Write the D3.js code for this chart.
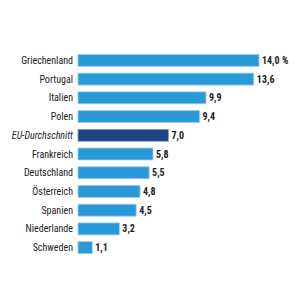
<!DOCTYPE html>
<html>
<head>
<meta charset="utf-8">
<script src="https://cdn.jsdelivr.net/npm/d3@7"></script>
<style>
  body { margin: 0; background: #fff; }
  text { font-family: "Roboto Condensed", "Liberation Sans Narrow", "DejaVu Sans Condensed", Roboto, sans-serif; }
</style>
</head>
<body>
<script>
var countries = ["Griechenland", "Portugal", "Italien", "Polen", "EU-Durchschnitt", "Frankreich",
                 "Deutschland", "Österreich", "Spanien", "Niederlande", "Schweden"];
var values = [14.0, 13.6, 9.9, 9.4, 7.0, 5.8, 5.5, 4.8, 4.5, 3.2, 1.1];
var highlight = "EU-Durchschnitt";

var w = 300, h = 300;

var svg = d3.select("body").append("svg")
    .attr("width", w)
    .attr("height", h);

var x = d3.scaleLinear().domain([0, 14]).range([78, 259]);
var y = d3.scaleBand().domain(countries).range([51, 257]).paddingInner(0.36).paddingOuter(0.18);

var fmt = function(v) { return d3.format(".1f")(v).replace(".", ","); };

// bars
svg.selectAll("rect.bar")
    .data(countries)
    .enter()
    .append("rect")
    .attr("class", "bar")
    .attr("x", x(0))
    .attr("y", function(d) { return y(d); })
    .attr("width", function(d, i) { return x(values[i]) - x(0); })
    .attr("height", y.bandwidth())
    .attr("fill", function(d) { return d == highlight ? "#1c4280" : "#2a99d8"; })
    .attr("stroke", function(d) { return d == highlight ? "#8ea3c4" : "#9fd0ee"; })
    .attr("stroke-width", 0.8);

// category labels
svg.selectAll("text.cat")
    .data(countries)
    .enter()
    .append("text")
    .attr("class", "cat")
    .attr("x", 73)
    .attr("y", function(d) { return y(d) + y.bandwidth() / 2; })
    .attr("dy", "0.35em")
    .attr("text-anchor", "end")
    .attr("font-size", 10)
    .attr("font-style", function(d) { return d == highlight ? "italic" : "normal"; })
    .attr("fill", "#222")
    .text(function(d) { return d; });

// value labels
svg.selectAll("text.val")
    .data(countries)
    .enter()
    .append("text")
    .attr("class", "val")
    .attr("x", function(d, i) { return x(values[i]) + 3; })
    .attr("y", function(d) { return y(d) + y.bandwidth() / 2; })
    .attr("dy", "0.35em")
    .attr("font-size", 10)
    .attr("font-weight", "bold")
    .attr("fill", "#222")
    .text(function(d, i) { return fmt(values[i]) + (i == 0 ? " %" : ""); });
</script>
</body>
</html>
